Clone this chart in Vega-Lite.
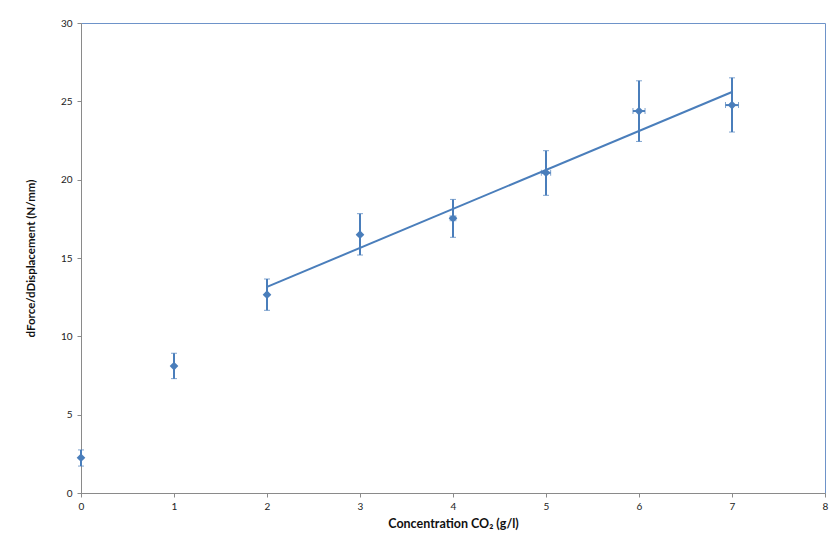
{
  "$schema": "https://vega.github.io/schema/vega-lite/v6.json",
  "width": 744,
  "height": 470,
  "autosize": {"type": "none"},
  "padding": {"left": 81, "top": 23, "right": 11, "bottom": 50},
  "background": "white",
  "config": {
    "font": "Lato",
    "view": {"stroke": "#6e93c9", "strokeWidth": 1},
    "axis": {
      "grid": false,
      "labelFlush": false,
      "domainColor": "#8a8a8a",
      "tickColor": "#8a8a8a",
      "tickSize": 4,
      "labelFont": "Lato",
      "labelFontSize": 10,
      "labelColor": "#222222",
      "titleFont": "Lato",
      "titleFontSize": 12,
      "titleFontWeight": "bold",
      "titleColor": "#111111"
    }
  },
  "datasets": {
    "pts": [
      {"x": 0, "y": 2.25, "ylo": 1.72, "yhi": 2.75},
      {"x": 1, "y": 8.1, "ylo": 7.3, "yhi": 8.92},
      {"x": 2, "y": 12.66, "ylo": 11.66, "yhi": 13.66},
      {"x": 3, "y": 16.49, "ylo": 15.19, "yhi": 17.83},
      {"x": 4, "y": 17.53, "ylo": 16.32, "yhi": 18.74},
      {"x": 5, "y": 20.44, "ylo": 19.0, "yhi": 21.85},
      {"x": 6, "y": 24.38, "ylo": 22.44, "yhi": 26.31},
      {"x": 7, "y": 24.76, "ylo": 23.04, "yhi": 26.5}
    ],
    "xerr": [
      {"y": 17.53, "xlo": 3.97, "xhi": 4.03},
      {"y": 20.44, "xlo": 4.95, "xhi": 5.05},
      {"y": 24.38, "xlo": 5.935, "xhi": 6.065},
      {"y": 24.76, "xlo": 6.93, "xhi": 7.07}
    ]
  },
  "layer": [
    {
      "data": {"name": "pts"},
      "transform": [{"filter": "datum.x >= 2"}, {"regression": "y", "on": "x"}],
      "mark": {"type": "line", "color": "#4a7ebb", "strokeWidth": 2},
      "encoding": {
        "x": {"field": "x", "type": "quantitative", "title": "Concentration CO₂ (g/l)", "scale": {"domain": [0, 8], "nice": false},
              "axis": {"values": [0,1,2,3,4,5,6,7,8], "format": "d", "labelPadding": 4, "titlePadding": 6, "titleFontSize": 12.5}},
        "y": {"field": "y", "type": "quantitative", "title": "dForce/dDisplacement (N/mm)", "scale": {"domain": [0, 30], "nice": false},
              "axis": {"values": [0,5,10,15,20,25,30], "format": "d", "labelPadding": 5, "titlePadding": 24, "titleFontSize": 11.5}}
      }
    },
    {
      "data": {"name": "pts"},
      "mark": {"type": "errorbar", "ticks": {"size": 6, "color": "#4a7ebb", "strokeWidth": 2}, "rule": {"color": "#4a7ebb", "strokeWidth": 2}},
      "encoding": {
        "x": {"field": "x", "type": "quantitative", "title": "Concentration CO₂ (g/l)"},
        "y": {"field": "ylo", "type": "quantitative", "title": "dForce/dDisplacement (N/mm)"},
        "y2": {"field": "yhi"}
      }
    },
    {
      "data": {"name": "xerr"},
      "mark": {"type": "errorbar", "ticks": {"size": 6, "color": "#4a7ebb", "strokeWidth": 2}, "rule": {"color": "#4a7ebb", "strokeWidth": 2}},
      "encoding": {
        "y": {"field": "y", "type": "quantitative", "title": "dForce/dDisplacement (N/mm)"},
        "x": {"field": "xlo", "type": "quantitative", "title": "Concentration CO₂ (g/l)"},
        "x2": {"field": "xhi"}
      }
    },
    {
      "data": {"name": "pts"},
      "mark": {"type": "point", "shape": "diamond", "filled": true, "size": 75, "color": "#4a7ebb", "opacity": 1},
      "encoding": {
        "x": {"field": "x", "type": "quantitative", "title": "Concentration CO₂ (g/l)"},
        "y": {"field": "y", "type": "quantitative", "title": "dForce/dDisplacement (N/mm)"}
      }
    }
  ]
}
